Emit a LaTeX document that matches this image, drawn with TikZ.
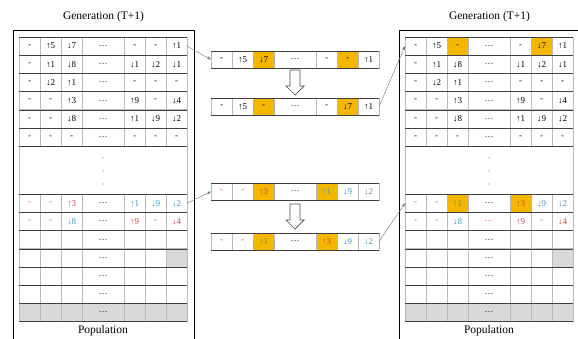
\documentclass[tikz,border=0pt]{standalone}
\usepackage{fontspec}
\setmainfont{Liberation Serif}
\usepackage{xcolor}
\usepackage{tikz}
\usetikzlibrary{arrows.meta}

\definecolor{cellorange}{RGB}{245,182,0}
\definecolor{cellgray}{RGB}{217,217,217}
\definecolor{txtred}{RGB}{215,70,65}
\definecolor{txtblue}{RGB}{70,150,190}

\tikzset{
  cellbox/.style={draw=gray!55, line width=0.9pt, inner sep=0pt, outer sep=0pt,
    font=\fontsize{9}{10}\selectfont},
  c0/.style={},
  cR/.style={text=txtred},
  cB/.style={text=txtblue},
  cO/.style={fill=cellorange},
  cOR/.style={fill=cellorange, text=txtred},
  cOB/.style={fill=cellorange, text=txtblue},
  cG/.style={fill=cellgray},
  hline/.style={black!75, line width=0.5pt},
  outerbox/.style={black, line width=0.8pt},
  link/.style={->, black!55, line width=0.4pt},
  hollow/.style={draw=black!70, line width=0.7pt, fill=white},
  captext/.style={font=\fontsize{11.5}{13}\selectfont}
}

% one row of seven cells: name, left x, top y, height, entries
\newcommand{\cellrow}[5]{%
  \foreach \sty/\txt [count=\col] in {#5}{%
    \pgfmathsetmacro{\cx}{{10.5,31.5,52.5,84,115.5,136.5,157.5}[\col-1]}%
    \pgfmathsetmacro{\cw}{\col==4 ? 42 : 21}%
    \node[cellbox, \sty, minimum width=\cw pt, minimum height=#4pt]
      (#1-\col) at (#2+\cx, #3+#4/2) {\txt};
  }%
}

% hollow down arrow: centre x, top y
\newcommand{\downblock}[2]{%
  \draw[hollow] (#1-5,#2) -- (#1+5,#2) -- (#1+5,#2+16) -- (#1+9,#2+16)
    -- (#1,#2+25) -- (#1-9,#2+16) -- (#1-5,#2+16) -- cycle;
}

\begin{document}
\begin{tikzpicture}[x=1pt, y=-1pt, >={Stealth[length=4pt,width=3pt]}]
        \useasboundingbox (0,0) rectangle (578,338);
        \clip (0,0) rectangle (578,338);
        % Frames and captions
        \draw[outerbox] (13,30) rectangle (194,350);
        \draw[outerbox] (399,30) rectangle (581,350);
        \node[captext] (genL) at (103.5,17) {Generation (T+1)};
        \node[captext] (genR) at (489.5,17) {Generation (T+1)};
        \node[captext] (popL) at (103,331) {Population};
        \node[captext] (popR) at (489,331) {Population};
        % Rows that differ between the two tables
        \cellrow{L1}{19}{37}{18.2}{c0/-, c0/↑5, c0/↓7, c0/…, c0/-, c0/-, c0/↑1}
        \cellrow{R1}{405}{37}{18.2}{c0/-, c0/↑5, cO/-, c0/…, c0/-, cO/↓7, c0/↑1}
        \cellrow{L7}{19}{194.2}{18.2}{cR/-, cR/-, cR/↑3, c0/…, cB/↑1, cB/↓9, cB/↓2}
        \cellrow{R7}{405}{194.2}{18.2}{cR/-, cR/-, cOB/↑1, c0/…, cOR/↑3, cB/↓9, cB/↓2}
        \cellrow{L8}{19}{212.4}{18.2}{cB/-, cB/-, cB/↓8, c0/…, cR/↑9, cR/-, cR/↓4}
        \cellrow{R8}{405}{212.4}{18.2}{cB/-, cB/-, cB/↓8, cR/…, cR/↑9, cR/-, cR/↓4}
        % Rows shared by both tables
        \foreach \tb/\tx in {L/19, R/405}{
          \cellrow{\tb2}{\tx}{55.2}{18.2}{c0/-, c0/↑1, c0/↓8, c0/…, c0/↓1, c0/↓2, c0/↓1}
          \cellrow{\tb3}{\tx}{73.4}{18.2}{c0/-, c0/↓2, c0/↑1, c0/…, c0/-, c0/-, c0/-}
          \cellrow{\tb4}{\tx}{91.6}{18.2}{c0/-, c0/-, c0/↑3, c0/…, c0/↑9, c0/-, c0/↓4}
          \cellrow{\tb5}{\tx}{109.8}{18.2}{c0/-, c0/-, c0/↓8, c0/…, c0/↑1, c0/↓9, c0/↓2}
          \cellrow{\tb6}{\tx}{128}{18.2}{c0/-, c0/-, c0/-, c0/…, c0/-, c0/-, c0/-}
          \cellrow{\tb9}{\tx}{230.6}{18.2}{c0/{}, c0/{}, c0/{}, c0/…, c0/{}, c0/{}, c0/{}}
          \cellrow{\tb10}{\tx}{248.8}{18.2}{c0/{}, c0/{}, c0/{}, c0/…, c0/{}, c0/{}, cG/{}}
          \cellrow{\tb11}{\tx}{267}{18.2}{c0/{}, c0/{}, c0/{}, c0/…, c0/{}, c0/{}, c0/{}}
          \cellrow{\tb12}{\tx}{285.2}{18.2}{c0/{}, c0/{}, c0/{}, c0/…, c0/{}, c0/{}, c0/{}}
          \cellrow{\tb13}{\tx}{303.4}{18.2}{cG/{}, cG/{}, cG/{}, cG/…, cG/{}, cG/{}, cG/{}}
          % gap with vertical dots
          \node[cellbox, minimum width=168pt, minimum height=48pt] (\tb-gap) at (\tx+84,170.2) {};
          \foreach \dy in {12.2,-0.8,-13.8}
            \fill[black!60] ([yshift=\dy pt]\tb-gap.center) circle (0.6pt);
          \foreach \r in {1,...,13}
            \draw[hline] (\tb\r-1.north west) -- (\tb\r-7.north east)
              (\tb\r-1.south west) -- (\tb\r-7.south east);
        }
        % Selected chromosomes and swaps
        \cellrow{S1}{211}{51}{17}{c0/-, c0/↑5, cO/↓7, c0/…, c0/-, cO/-, c0/↑1}
        \cellrow{S2}{211}{98}{17}{c0/-, c0/↑5, cO/-, c0/…, c0/-, cO/↓7, c0/↑1}
        \cellrow{S3}{211}{183}{17}{cR/-, cR/-, cOR/↑3, c0/…, cOB/↑1, cB/↓9, cB/↓2}
        \cellrow{S4}{211}{233}{17}{cR/-, cR/-, cOB/↑1, c0/…, cOR/↑3, cB/↓9, cB/↓2}
        \foreach \r in {1,...,4}
          \draw[hline] (S\r-1.north west) -- (S\r-7.north east)
            (S\r-1.south west) -- (S\r-7.south east);
        \downblock{295}{70}
        \downblock{295}{204}
        % Links
        \draw[link] (L1-7.east) -- (S1-1.west);
        \draw[link] (S2-7.east) -- (R1-1.west);
        \draw[link] (L7-7.east) -- (S3-1.west);
        \draw[link] (S4-7.east) -- (R7-1.west);
      \end{tikzpicture}
\end{document}
